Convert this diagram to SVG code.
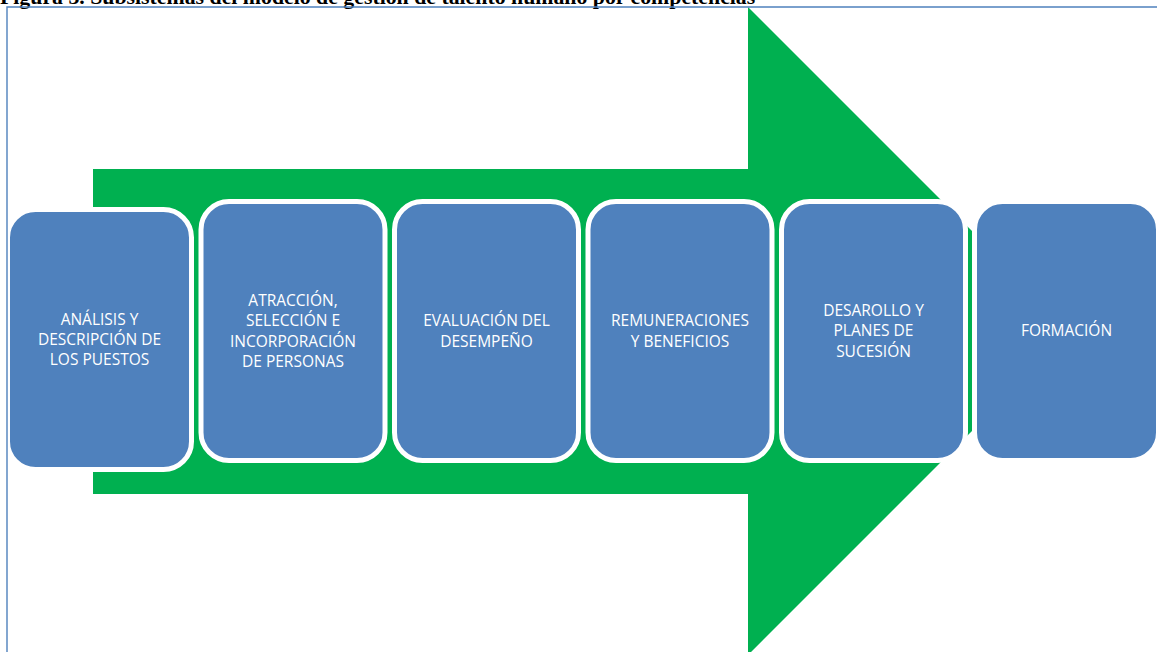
<svg xmlns="http://www.w3.org/2000/svg" width="1157" height="652" viewBox="0 0 1157 652">
  <style>
    .box { fill: #4f81bd; stroke: #ffffff; stroke-width: 5; }
    .lbl { font-family: "Open Sans", "Noto Sans", sans-serif; font-size: 15.5px; fill: #ffffff; text-anchor: middle; }
    .title { font-family: "Liberation Serif", "Times New Roman", serif; font-size: 21.8px; font-weight: bold; fill: #000000; }
    .frame { stroke: #4f81bd; stroke-width: 1.4; fill: none; }
  </style>
  <rect width="1157" height="652" fill="#ffffff"/>
  <text class="title" x="0" y="4">Figura 3. Subsistemas del modelo de gestión de talento humano por competencias</text>
  <g id="connectors">
    <polygon id="arrow" points="93,169 748,169 748,7 1072,331 748,655 748,494 93,494" fill="#00b050"/>
  </g>
  <g id="node1">
    <rect class="box" x="7.5" y="209.5" width="184" height="260" rx="28"/>
    <text class="lbl"><tspan x="99.5" y="325">ANÁLISIS Y</tspan><tspan x="99.5" y="345">DESCRIPCIÓN DE</tspan><tspan x="99.5" y="365">LOS PUESTOS</tspan></text>
  </g>
  <g id="node2">
    <rect class="box" x="201" y="201.5" width="184" height="259" rx="28"/>
    <text class="lbl"><tspan x="293" y="306">ATRACCIÓN,</tspan><tspan x="293" y="326">SELECCIÓN E</tspan><tspan x="293" y="347">INCORPORACIÓN</tspan><tspan x="293" y="367">DE PERSONAS</tspan></text>
  </g>
  <g id="node3">
    <rect class="box" x="394.5" y="201.5" width="184" height="259" rx="28"/>
    <text class="lbl"><tspan x="486.5" y="326">EVALUACIÓN DEL</tspan><tspan x="486.5" y="347">DESEMPEÑO</tspan></text>
  </g>
  <g id="node4">
    <rect class="box" x="588" y="201.5" width="184" height="259" rx="28"/>
    <text class="lbl"><tspan x="680" y="326">REMUNERACIONES</tspan><tspan x="680" y="347">Y BENEFICIOS</tspan></text>
  </g>
  <g id="node5">
    <rect class="box" x="781.5" y="201.5" width="184" height="259" rx="28"/>
    <text class="lbl"><tspan x="873.5" y="316">DESAROLLO Y</tspan><tspan x="873.5" y="336">PLANES DE</tspan><tspan x="873.5" y="357">SUCESIÓN</tspan></text>
  </g>
  <g id="node6">
    <rect class="box" x="974.5" y="201.5" width="184" height="259" rx="28"/>
    <text class="lbl"><tspan x="1066.5" y="336">FORMACIÓN</tspan></text>
  </g>
  <path class="frame" d="M7,660 V7 H1160"/>
</svg>
